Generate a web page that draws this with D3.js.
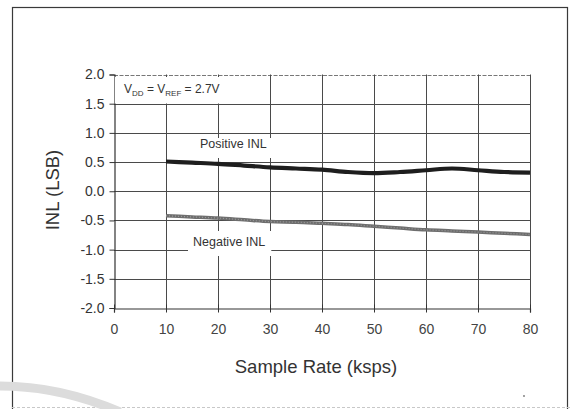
<!DOCTYPE html>
<html>
<head>
<meta charset="utf-8">
<script src="https://cdn.jsdelivr.net/npm/d3@7"></script>
<style>
  html, body { margin: 0; padding: 0; background: #fff; }
  svg { display: block; }
  text { font-family: "Liberation Sans", Arial, sans-serif; }
</style>
</head>
<body>
<svg id="chart" width="571" height="409"></svg>
<script>
// INL vs sample rate, VDD = VREF = 2.7V
const sampleRate  = [10, 15, 20, 25, 30, 35, 40, 45, 50, 55, 60, 65, 70, 75, 80];
const positiveINL = [0.51, 0.49, 0.47, 0.44, 0.41, 0.39, 0.37, 0.33, 0.31, 0.33, 0.36, 0.39, 0.36, 0.33, 0.32];
const negativeINL = [-0.42, -0.44, -0.46, -0.49, -0.52, -0.53, -0.55, -0.57, -0.60, -0.63, -0.66, -0.68, -0.70, -0.72, -0.74];
const xTicks = [0, 10, 20, 30, 40, 50, 60, 70, 80];
const yTicks = [-2.0, -1.5, -1.0, -0.5, 0.0, 0.5, 1.0, 1.5, 2.0];
const xTitle = "Sample Rate (ksps)";
const yTitle = "INL (LSB)";

const svg = d3.select("#chart");
const W = 571, H = 409;

const x = d3.scaleLinear().domain([0, 80]).range([114, 530]);
const y = d3.scaleLinear().domain([-2, 2]).range([308, 74.5]);

// outer frame
svg.append("rect").attr("x", 12.5).attr("y", 7.5).attr("width", 555).attr("height", 420)
  .attr("fill", "none").attr("stroke", "#3a3a3a").attr("stroke-width", 1.2);
svg.append("line").attr("x1", 12).attr("x2", W).attr("y1", 407.5).attr("y2", 407.5)
  .attr("stroke", "#c8c8c8").attr("stroke-width", 1).attr("stroke-dasharray", "3,2");

// faint arc in the lower-left corner
svg.append("path")
  .attr("d", "M0,386 Q60,386 120,412")
  .attr("fill", "none").attr("stroke", "#dcdcdc").attr("stroke-width", 9);

const grid = svg.append("g").attr("stroke", "#4a4a4a").attr("stroke-width", 1);

// horizontal grid lines (excluding the x axis at -2.0)
grid.selectAll("line.h").data(yTicks.filter(d => d > -2)).join("line")
  .attr("class", "h")
  .attr("x1", x(0)).attr("x2", x(80))
  .attr("y1", d => Math.round(y(d)) + 0.5).attr("y2", d => Math.round(y(d)) + 0.5)
  .attr("stroke", d => d === 2 ? "#777" : "#4a4a4a")
  .attr("stroke-dasharray", d => d === 2 ? "4,1.5" : null);

// vertical grid lines
grid.selectAll("line.v").data(xTicks.filter(d => d > 0)).join("line")
  .attr("class", "v")
  .attr("x1", d => Math.round(x(d)) + 0.5).attr("x2", d => Math.round(x(d)) + 0.5)
  .attr("y1", y(2)).attr("y2", y(-2));

// axes (plain hyphen for negative numbers)
const fmtY = d => d3.format(".1f")(d).replace("\u2212", "-");

const xAxis = svg.append("g").attr("transform", `translate(0,${Math.round(y(-2)) + 0.5})`)
  .call(d3.axisBottom(x).tickValues(xTicks).tickSize(4).tickPadding(12).tickFormat(d3.format("d")));
xAxis.select(".domain").attr("stroke", "#333").attr("stroke-width", 1.2);
xAxis.selectAll(".tick line").attr("y1", -4).attr("stroke", "#333");
xAxis.selectAll("text").attr("font-size", 14).attr("fill", "#444")
  .style("font-family", "'Liberation Sans', Arial, sans-serif");

const yAxis = svg.append("g").attr("transform", `translate(${Math.round(x(0)) + 0.5},0)`)
  .call(d3.axisLeft(y).tickValues(yTicks).tickSize(5).tickPadding(5).tickFormat(fmtY));
yAxis.select(".domain").attr("stroke", "#333").attr("stroke-width", 1.2);
yAxis.selectAll(".tick line").attr("stroke", "#333");
yAxis.selectAll("text").attr("font-size", 14).attr("fill", "#333")
  .style("font-family", "'Liberation Sans', Arial, sans-serif");

// white boxes behind in-plot annotations
function boxedText(g, tx, ty, pad, build) {
  const box = g.append("rect").attr("fill", "#fff");
  const t = build(g.append("text").attr("x", tx).attr("y", ty));
  const b = t.node().getBBox();
  box.attr("x", b.x - pad[3]).attr("y", b.y - pad[0])
     .attr("width", b.width + pad[1] + pad[3]).attr("height", b.height + pad[0] + pad[2]);
  return t;
}

const notes = svg.append("g");

boxedText(notes, 124, 93, [5, 7, 6, 9], t => {
  t.attr("font-size", 12).attr("fill", "#333");
  t.append("tspan").text("V");
  t.append("tspan").attr("font-size", 8).attr("dy", 2.5).text("DD");
  t.append("tspan").attr("dy", -2.5).text(" = V");
  t.append("tspan").attr("font-size", 8).attr("dy", 2.5).text("REF");
  t.append("tspan").attr("dy", -2.5).text(" = 2.7V");
  return t;
});

boxedText(notes, 200, 148, [-1, 11, 7, 17], t =>
  t.attr("font-size", 12.5).attr("fill", "#333").text("Positive INL"));

boxedText(notes, 193, 246, [4, 6, 7, 5], t =>
  t.attr("font-size", 12.5).attr("fill", "#333").text("Negative INL"));

// series
const line = d3.line().curve(d3.curveMonotoneX).x(d => x(d[0])).y(d => y(d[1]));

svg.append("path")
  .datum(sampleRate.map((s, i) => [s, negativeINL[i]]))
  .attr("d", line).attr("fill", "none")
  .attr("stroke", "#6e6e6e").attr("stroke-width", 3.5);

svg.append("path")
  .datum(sampleRate.map((s, i) => [s, negativeINL[i]]))
  .attr("d", line).attr("fill", "none")
  .attr("stroke", "#9a9a9a").attr("stroke-width", 1.2).attr("stroke-dasharray", "1,2");

svg.append("path")
  .datum(sampleRate.map((s, i) => [s, positiveINL[i]]))
  .attr("d", line).attr("fill", "none")
  .attr("stroke", "#1e1e1e").attr("stroke-width", 4.2);

// axis titles
svg.append("text").attr("x", 316).attr("y", 373).attr("text-anchor", "middle")
  .attr("font-size", 18.5).attr("fill", "#333").text(xTitle);

svg.append("text").attr("transform", "translate(59,190) rotate(-90)").attr("text-anchor", "middle")
  .attr("font-size", 18.5).attr("fill", "#333").text(yTitle);

// small speck near the lower right
svg.append("circle").attr("cx", 524).attr("cy", 396).attr("r", 0.9).attr("fill", "#777");
</script>
</body>
</html>
